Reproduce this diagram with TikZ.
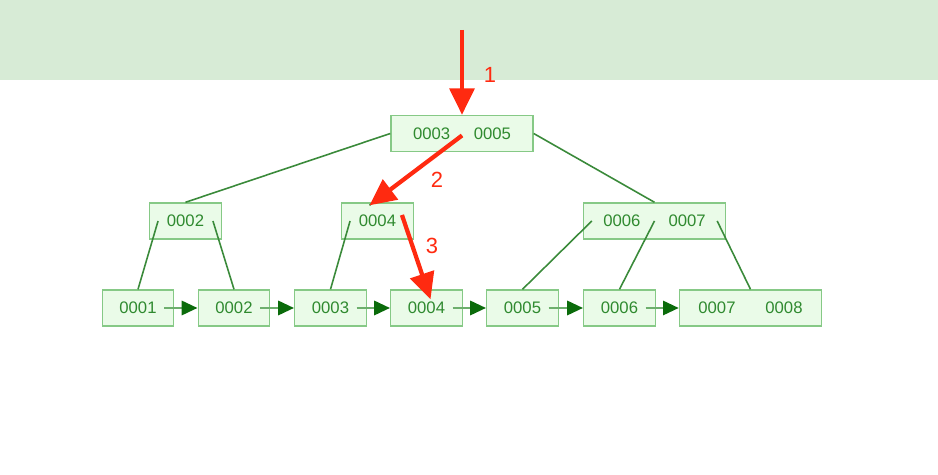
\documentclass[tikz,border=0pt]{standalone}
\usepackage{fontspec}
\setmainfont{Liberation Sans}
\usetikzlibrary{arrows.meta,calc}
\definecolor{bandGreen}{HTML}{D7EBD6}
\definecolor{keyFill}{HTML}{EAFBE8}
\definecolor{keyBorder}{HTML}{86C986}
\definecolor{keyText}{HTML}{2F8A2F}
\definecolor{ptrGreen}{HTML}{3A8A3A}
\definecolor{linkGreen}{HTML}{6DAF6D}
\definecolor{tipGreen}{HTML}{0B6B0B}
\definecolor{pathRed}{HTML}{FF2A10}

\tikzset{
  keybox/.style={draw=keyBorder, fill=keyFill, text=keyText, line width=0.8pt,
    minimum width=1.43cm, minimum height=0.72cm, inner sep=0pt,
    font=\fontsize{9.5}{11}\selectfont},
  widebox/.style={keybox, minimum width=2.84cm},
  ptr/.style={ptrGreen, line width=0.9pt},
  leaflink/.style={linkGreen, line width=1.6pt, -{Triangle[length=9pt,width=8pt,color=tipGreen]}},
  searchstep/.style={pathRed, line width=2.4pt, -{Triangle[length=15pt,width=14pt]}},
  steplabel/.style={text=pathRed, font=\fontsize{12.5}{14}\selectfont}
}

\begin{document}
\begin{tikzpicture}[x=0.02cm, y=-0.02cm]
    \useasboundingbox (0,0) rectangle (938,475);
    \fill[bandGreen] (0,0) rectangle (938,80);

    % root and inner level
    \node[widebox] (root) at (462,133.5) {0003\hspace{13.5pt}0005};
    \node[keybox] (in2) at (185.5,221) {0002};
    \node[keybox] (in4) at (377.5,221) {0004};
    \node[widebox] (in67) at (654.5,221) {0006\hspace{16pt}0007};

    % leaves
    \node[keybox] (lf1) at (138,308) {0001};
    \node[keybox] (lf2) at (234,308) {0002};
    \node[keybox] (lf3) at (330.5,308) {0003};
    \node[keybox] (lf4) at (426.5,308) {0004};
    \node[keybox] (lf5) at (522.5,308) {0005};
    \node[keybox] (lf6) at (619.5,308) {0006};
    \node[widebox] (lf78) at (750.5,308) {0007\hspace{17pt}0008};

    % child pointers
    \draw[ptr] (root.west) -- (in2.north);
    \draw[ptr] ($(root.center)+(0,2)$) -- ($(in4.north)+(-8,3)$);
    \draw[ptr] (root.east) -- (in67.north);
    \draw[ptr] ($(in2.west)+(9,0)$) -- (lf1.north);
    \draw[ptr] ($(in2.east)+(-9,0)$) -- (lf2.north);
    \draw[ptr] ($(in4.west)+(9,0)$) -- (lf3.north);
    \draw[ptr] ($(in4.east)+(-9,0)$) -- (lf4.north);
    \draw[ptr] ($(in67.west)+(9,0)$) -- (lf5.north);
    \draw[ptr] (in67.center) -- (lf6.north);
    \draw[ptr] ($(in67.east)+(-9,0)$) -- (lf78.north);

    % leaf chain
    \foreach \a/\b in {lf1/lf2, lf2/lf3, lf3/lf4, lf4/lf5, lf5/lf6, lf6/lf78}
        \draw[leaflink] ($(\a.center)+(26,0)$) -- (\b.west);

    % search path
    \coordinate (start) at (462,30);
    \draw[searchstep] (start) -- (root.north);
    \draw[searchstep] ($(root.center)+(0,2)$) -- ($(in4.north)+(-8,3)$);
    \draw[searchstep] ($(in4.east)+(-12,-6)$) -- ($(lf4.north)+(4,10)$);
    \node[steplabel] (n1) at (490,75) {1};
    \node[steplabel] (n2) at (437,180) {2};
    \node[steplabel] (n3) at (432,246) {3};
\end{tikzpicture}
\end{document}
